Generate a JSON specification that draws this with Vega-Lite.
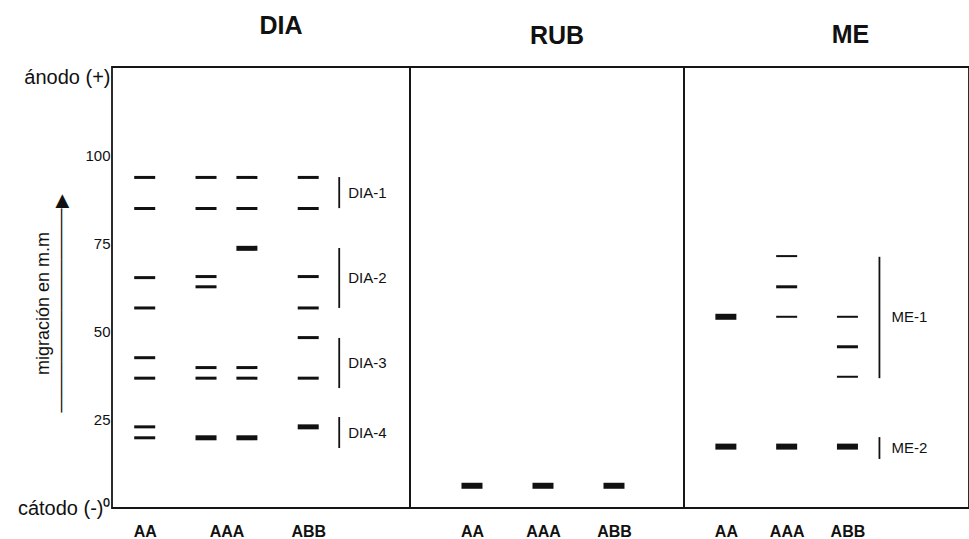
{
  "$schema": "https://vega.github.io/schema/vega-lite/v6.json",
  "background": "white",
  "autosize": {"type": "pad"},
  "padding": {"left": 16, "top": 13, "right": 0, "bottom": 0},
  "spacing": 0,
  "bounds": "flush",
  "config": {
    "font": "Liberation Sans",
    "view": {"stroke": "#151515", "strokeWidth": 1.8},
    "title": {"fontSize": 25, "fontWeight": "bold", "color": "#111111", "baseline": "alphabetic", "anchor": "middle"},
    "axis": {"grid": false, "domain": false, "ticks": false, "labelColor": "#111111", "titleColor": "#111111", "labelFont": "Liberation Sans", "titleFont": "Liberation Sans"}
  },
  "datasets": {
    "bands": [
      {"panel": "DIA", "lane": "AA", "x": 1, "y": 93.7, "intensity": "medium"},
      {"panel": "DIA", "lane": "AA", "x": 1, "y": 84.9, "intensity": "medium"},
      {"panel": "DIA", "lane": "AA", "x": 1, "y": 65.3, "intensity": "medium"},
      {"panel": "DIA", "lane": "AA", "x": 1, "y": 56.7, "intensity": "medium"},
      {"panel": "DIA", "lane": "AA", "x": 1, "y": 42.6, "intensity": "medium"},
      {"panel": "DIA", "lane": "AA", "x": 1, "y": 36.8, "intensity": "medium"},
      {"panel": "DIA", "lane": "AA", "x": 1, "y": 23.0, "intensity": "medium"},
      {"panel": "DIA", "lane": "AA", "x": 1, "y": 19.9, "intensity": "medium"},
      {"panel": "DIA", "lane": "AAA", "x": 1.75, "y": 93.7, "intensity": "medium"},
      {"panel": "DIA", "lane": "AAA", "x": 1.75, "y": 84.9, "intensity": "medium"},
      {"panel": "DIA", "lane": "AAA", "x": 1.75, "y": 65.6, "intensity": "medium"},
      {"panel": "DIA", "lane": "AAA", "x": 1.75, "y": 62.7, "intensity": "medium"},
      {"panel": "DIA", "lane": "AAA", "x": 1.75, "y": 39.8, "intensity": "medium"},
      {"panel": "DIA", "lane": "AAA", "x": 1.75, "y": 36.8, "intensity": "medium"},
      {"panel": "DIA", "lane": "AAA", "x": 1.75, "y": 19.9, "intensity": "strong"},
      {"panel": "DIA", "lane": "AAA", "x": 2.25, "y": 93.7, "intensity": "medium"},
      {"panel": "DIA", "lane": "AAA", "x": 2.25, "y": 84.9, "intensity": "medium"},
      {"panel": "DIA", "lane": "AAA", "x": 2.25, "y": 73.6, "intensity": "strong"},
      {"panel": "DIA", "lane": "AAA", "x": 2.25, "y": 39.8, "intensity": "medium"},
      {"panel": "DIA", "lane": "AAA", "x": 2.25, "y": 36.8, "intensity": "medium"},
      {"panel": "DIA", "lane": "AAA", "x": 2.25, "y": 19.9, "intensity": "strong"},
      {"panel": "DIA", "lane": "ABB", "x": 3, "y": 93.7, "intensity": "medium"},
      {"panel": "DIA", "lane": "ABB", "x": 3, "y": 84.9, "intensity": "medium"},
      {"panel": "DIA", "lane": "ABB", "x": 3, "y": 65.6, "intensity": "medium"},
      {"panel": "DIA", "lane": "ABB", "x": 3, "y": 56.7, "intensity": "medium"},
      {"panel": "DIA", "lane": "ABB", "x": 3, "y": 48.3, "intensity": "medium"},
      {"panel": "DIA", "lane": "ABB", "x": 3, "y": 36.8, "intensity": "medium"},
      {"panel": "DIA", "lane": "ABB", "x": 3, "y": 23.0, "intensity": "strong"},
      {"panel": "RUB", "lane": "AA", "x": 1, "y": 6.3, "intensity": "strong"},
      {"panel": "RUB", "lane": "AAA", "x": 2, "y": 6.3, "intensity": "strong"},
      {"panel": "RUB", "lane": "ABB", "x": 3, "y": 6.3, "intensity": "strong"},
      {"panel": "ME", "lane": "AA", "x": 1, "y": 54.2, "intensity": "strong"},
      {"panel": "ME", "lane": "AA", "x": 1, "y": 17.4, "intensity": "strong"},
      {"panel": "ME", "lane": "AAA", "x": 2, "y": 71.4, "intensity": "weak"},
      {"panel": "ME", "lane": "AAA", "x": 2, "y": 62.7, "intensity": "medium"},
      {"panel": "ME", "lane": "AAA", "x": 2, "y": 54.2, "intensity": "weak"},
      {"panel": "ME", "lane": "AAA", "x": 2, "y": 17.4, "intensity": "strong"},
      {"panel": "ME", "lane": "ABB", "x": 3, "y": 54.2, "intensity": "weak"},
      {"panel": "ME", "lane": "ABB", "x": 3, "y": 45.7, "intensity": "medium"},
      {"panel": "ME", "lane": "ABB", "x": 3, "y": 37.2, "intensity": "weak"},
      {"panel": "ME", "lane": "ABB", "x": 3, "y": 17.4, "intensity": "strong"}
    ],
    "brackets": [
      {"panel": "DIA", "group": "DIA-1", "x": 3, "y": 93.8},
      {"panel": "DIA", "group": "DIA-1", "x": 3, "y": 85.0},
      {"panel": "DIA", "group": "DIA-2", "x": 3, "y": 73.7},
      {"panel": "DIA", "group": "DIA-2", "x": 3, "y": 56.7},
      {"panel": "DIA", "group": "DIA-3", "x": 3, "y": 48.2},
      {"panel": "DIA", "group": "DIA-3", "x": 3, "y": 34.0},
      {"panel": "DIA", "group": "DIA-4", "x": 3, "y": 25.8},
      {"panel": "DIA", "group": "DIA-4", "x": 3, "y": 17.0},
      {"panel": "ME", "group": "ME-1", "x": 3, "y": 71.2},
      {"panel": "ME", "group": "ME-1", "x": 3, "y": 36.8},
      {"panel": "ME", "group": "ME-2", "x": 3, "y": 20.1},
      {"panel": "ME", "group": "ME-2", "x": 3, "y": 13.9}
    ]
  },
  "hconcat": [
    {
      "width": 298,
      "height": 441,
      "title": {"text": "DIA", "dx": 20, "offset": 28},
      "resolve": {"axis": {"x": "independent", "y": "independent"}},
      "layer": [
        {
          "data": {"name": "bands"},
          "transform": [{"filter": "datum.panel == 'DIA' && datum.intensity == 'medium'"}],
          "mark": {"type": "tick", "orient": "horizontal", "size": 21, "thickness": 3, "color": "#111111", "opacity": 1},
          "encoding": {
            "x": {"field": "x", "type": "quantitative", "scale": {"domain": [0.6, 4.245], "nice": false, "zero": false},
              "axis": {"values": [1, 2, 3], "labelExpr": "datum.value == 1 ? 'AA' : datum.value == 2 ? 'AAA' : 'ABB'", "title": null, "labelFontSize": 16, "labelFontWeight": "bold", "labelPadding": 15, "labelFlush": false}},
            "y": {"field": "y", "type": "quantitative", "scale": {"domain": [0, 125], "nice": false, "zero": false},
              "axis": {
                "values": [0, 25, 50, 75, 100, 125],
                "labelExpr": "datum.value == 0 ? 'cátodo (-)⁰' : datum.value == 125 ? 'ánodo (+)' : datum.label",
                "labelFontSize": {"condition": {"test": "datum.value == 0 || datum.value == 125", "value": 20}, "value": 15},
                "labelBaseline": {"condition": {"test": "datum.value == 125", "value": "top"}, "value": "middle"},
                "labelPadding": 2,
                "labelFlush": false,
                "labelOverlap": false,
                "title": ["migración en m.m", "────────────────▶"],
                "titleFontSize": 18,
                "titleFontWeight": "normal",
                "titleAngle": 270,
                "titleAlign": "center",
                "titleBaseline": "bottom",
                "titleLineHeight": 18,
                "titleX": -60,
                "titleY": 236
              }}
          }
        },
        {
          "data": {"name": "bands"},
          "transform": [{"filter": "datum.panel == 'DIA' && datum.intensity == 'strong'"}],
          "mark": {"type": "tick", "orient": "horizontal", "size": 21, "thickness": 5, "color": "#111111", "opacity": 1},
          "encoding": {
            "x": {"field": "x", "type": "quantitative", "scale": {"domain": [0.6, 4.245], "nice": false, "zero": false}, "axis": null},
            "y": {"field": "y", "type": "quantitative", "scale": {"domain": [0, 125], "nice": false, "zero": false}, "axis": null}
          }
        },
        {
          "data": {"name": "brackets"},
          "transform": [{"filter": "datum.panel == 'DIA'"}],
          "mark": {"type": "rule", "color": "#111111", "strokeWidth": 1.8, "xOffset": 31},
          "encoding": {
            "x": {"field": "x", "type": "quantitative", "scale": {"domain": [0.6, 4.245], "nice": false, "zero": false}, "axis": null},
            "y": {"aggregate": "max", "field": "y", "type": "quantitative", "scale": {"domain": [0, 125], "nice": false, "zero": false}, "axis": null},
            "y2": {"aggregate": "min", "field": "y"},
            "detail": {"field": "group", "type": "nominal"}
          }
        },
        {
          "data": {"name": "brackets"},
          "transform": [{"filter": "datum.panel == 'DIA'"}],
          "mark": {"type": "text", "align": "left", "baseline": "middle", "xOffset": 40, "fontSize": 15, "color": "#111111"},
          "encoding": {
            "x": {"field": "x", "type": "quantitative", "scale": {"domain": [0.6, 4.245], "nice": false, "zero": false}, "axis": null},
            "y": {"aggregate": "mean", "field": "y", "type": "quantitative", "scale": {"domain": [0, 125], "nice": false, "zero": false}, "axis": null},
            "text": {"field": "group", "type": "nominal"}
          }
        }
      ]
    },
    {
      "width": 274,
      "height": 441,
      "title": {"text": "RUB", "dx": 10, "offset": 18},
      "layer": [
        {
          "data": {"name": "bands"},
          "transform": [{"filter": "datum.panel == 'RUB'"}],
          "mark": {"type": "tick", "orient": "horizontal", "size": 21, "thickness": 6, "color": "#111111", "opacity": 1},
          "encoding": {
            "x": {"field": "x", "type": "quantitative", "scale": {"domain": [0.127, 3.986], "nice": false, "zero": false},
              "axis": {"values": [1, 2, 3], "labelExpr": "datum.value == 1 ? 'AA' : datum.value == 2 ? 'AAA' : 'ABB'", "title": null, "labelFontSize": 16, "labelFontWeight": "bold", "labelPadding": 15, "labelFlush": false}},
            "y": {"field": "y", "type": "quantitative", "scale": {"domain": [0, 125], "nice": false, "zero": false}, "axis": null}
          }
        }
      ]
    },
    {
      "width": 285,
      "height": 441,
      "title": {"text": "ME", "dx": 24, "offset": 19},
      "resolve": {"axis": {"x": "independent", "y": "independent"}},
      "layer": [
        {
          "data": {"name": "bands"},
          "transform": [{"filter": "datum.panel == 'ME' && datum.intensity == 'medium'"}],
          "mark": {"type": "tick", "orient": "horizontal", "size": 21, "thickness": 3, "color": "#111111", "opacity": 1},
          "encoding": {
            "x": {"field": "x", "type": "quantitative", "scale": {"domain": [0.311, 5.0], "nice": false, "zero": false},
              "axis": {"values": [1, 2, 3], "labelExpr": "datum.value == 1 ? 'AA' : datum.value == 2 ? 'AAA' : 'ABB'", "title": null, "labelFontSize": 16, "labelFontWeight": "bold", "labelPadding": 15, "labelFlush": false}},
            "y": {"field": "y", "type": "quantitative", "scale": {"domain": [0, 125], "nice": false, "zero": false}, "axis": null}
          }
        },
        {
          "data": {"name": "bands"},
          "transform": [{"filter": "datum.panel == 'ME' && datum.intensity == 'weak'"}],
          "mark": {"type": "tick", "orient": "horizontal", "size": 21, "thickness": 2, "color": "#111111", "opacity": 1},
          "encoding": {
            "x": {"field": "x", "type": "quantitative", "scale": {"domain": [0.311, 5.0], "nice": false, "zero": false}, "axis": null},
            "y": {"field": "y", "type": "quantitative", "scale": {"domain": [0, 125], "nice": false, "zero": false}, "axis": null}
          }
        },
        {
          "data": {"name": "bands"},
          "transform": [{"filter": "datum.panel == 'ME' && datum.intensity == 'strong'"}],
          "mark": {"type": "tick", "orient": "horizontal", "size": 21, "thickness": 6, "color": "#111111", "opacity": 1},
          "encoding": {
            "x": {"field": "x", "type": "quantitative", "scale": {"domain": [0.311, 5.0], "nice": false, "zero": false}, "axis": null},
            "y": {"field": "y", "type": "quantitative", "scale": {"domain": [0, 125], "nice": false, "zero": false}, "axis": null}
          }
        },
        {
          "data": {"name": "brackets"},
          "transform": [{"filter": "datum.panel == 'ME'"}],
          "mark": {"type": "rule", "color": "#111111", "strokeWidth": 1.8, "xOffset": 32},
          "encoding": {
            "x": {"field": "x", "type": "quantitative", "scale": {"domain": [0.311, 5.0], "nice": false, "zero": false}, "axis": null},
            "y": {"aggregate": "max", "field": "y", "type": "quantitative", "scale": {"domain": [0, 125], "nice": false, "zero": false}, "axis": null},
            "y2": {"aggregate": "min", "field": "y"},
            "detail": {"field": "group", "type": "nominal"}
          }
        },
        {
          "data": {"name": "brackets"},
          "transform": [{"filter": "datum.panel == 'ME'"}],
          "mark": {"type": "text", "align": "left", "baseline": "middle", "xOffset": 44, "fontSize": 15, "color": "#111111"},
          "encoding": {
            "x": {"field": "x", "type": "quantitative", "scale": {"domain": [0.311, 5.0], "nice": false, "zero": false}, "axis": null},
            "y": {"aggregate": "mean", "field": "y", "type": "quantitative", "scale": {"domain": [0, 125], "nice": false, "zero": false}, "axis": null},
            "text": {"field": "group", "type": "nominal"}
          }
        }
      ]
    }
  ]
}
